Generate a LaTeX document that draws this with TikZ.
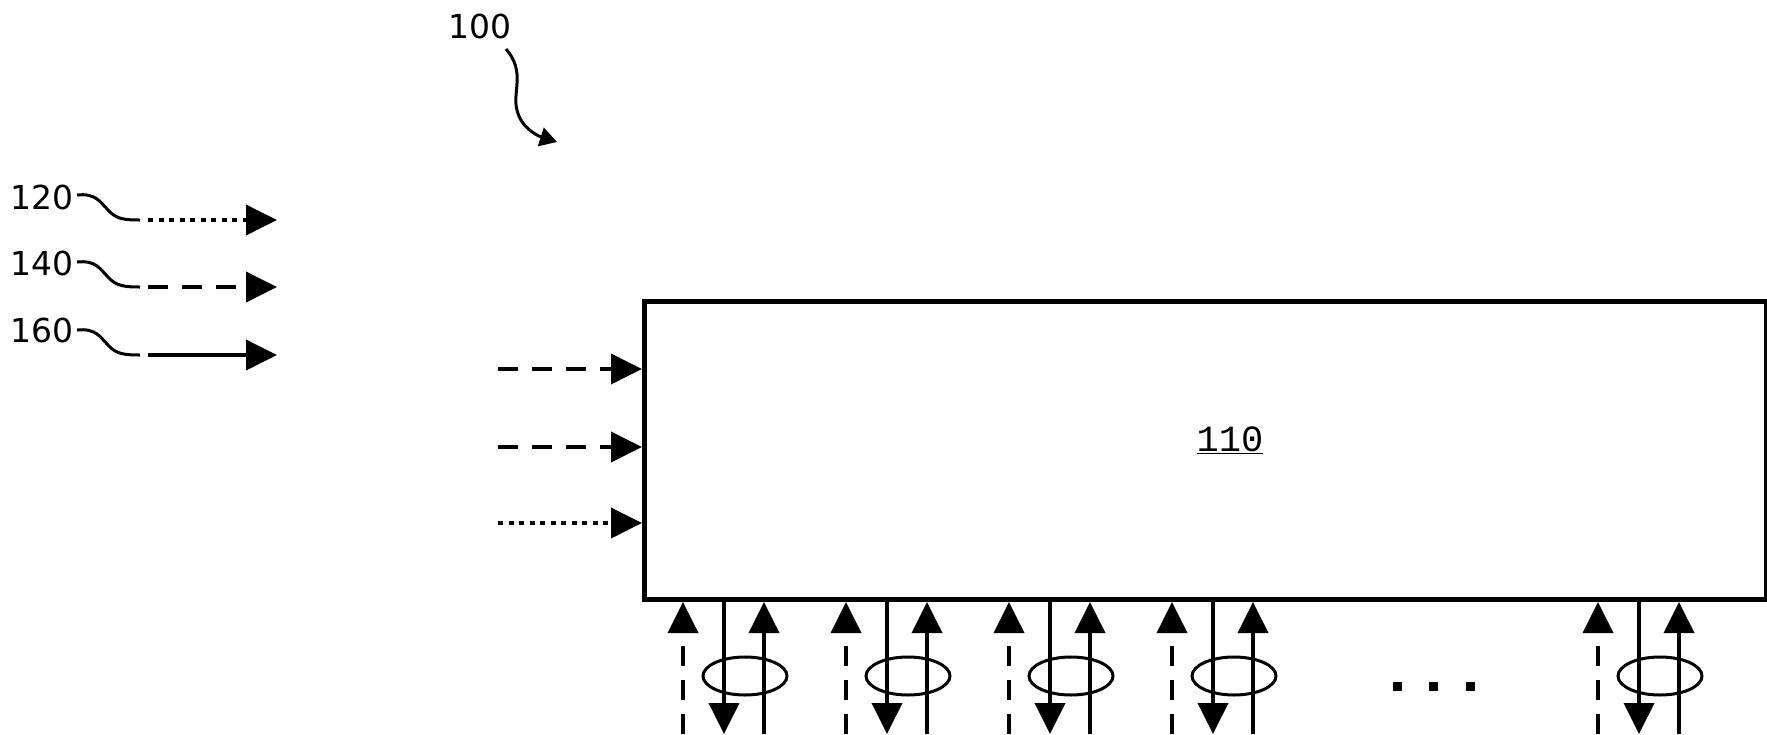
\documentclass[tikz,border=0pt]{standalone}
\usepackage{fontspec}
\setmainfont{DejaVu Sans}
\newfontfamily\monofnt{Liberation Mono}
\usetikzlibrary{arrows.meta,shapes.geometric}
\begin{document}
\begin{tikzpicture}[x=1pt,y=-1pt,
  lbl/.style={font=\fontsize{33}{36}\selectfont, inner sep=0pt},
  conn/.style={line width=3.8pt, -{Triangle[length=31pt,width=30pt]}},
  dotline/.style={conn, dash pattern=on 5pt off 5.5pt},
  dashline/.style={conn, dash pattern=on 20pt off 14pt},
  leader/.style={line width=3pt},
  loopell/.style={line width=3pt, draw, ellipse, minimum width=84pt, minimum height=38pt, inner sep=0pt},
  dotsq/.style={fill=black, minimum size=9pt, inner sep=0pt}]
\useasboundingbox (0,0) rectangle (1767,734);

% main box
\node[draw, line width=5pt, minimum width=1122pt, minimum height=298pt, inner sep=0pt, anchor=north west] (box) at (642,299) {};
\node[font=\monofnt\fontsize{37}{40}\selectfont, inner sep=0pt] (t110) at (1230,440) {\underline{110}};

% label 100
\node[lbl] (t100) at (480,26) {100};
\coordinate (c100a) at (506,49);
\coordinate (c100b) at (517,110);
\coordinate (c100c) at (557,142);
\draw[leader, -{Triangle[length=17pt,width=19pt]}] (c100a) .. controls (526,72) and (512,92) .. (c100b) .. controls (521,128) and (538,136) .. (c100c);

% legend
\node[lbl] (t120) at (42,197) {120};
\node[lbl] (t140) at (42,263) {140};
\node[lbl] (t160) at (42,330) {160};
\foreach \n/\y/\st in {120/220/dotline, 140/287/dashline, 160/355/conn}{
  \coordinate (ls\n) at (77,\y-25);
  \coordinate (le\n) at (140,\y);
  \coordinate (as\n) at (148,\y);
  \coordinate (ae\n) at (277,\y);
  \draw[leader] (ls\n) .. controls (96,\y-27) and (100,\y-18) .. (108,\y-10) .. controls (116,\y-1) and (124,\y) .. (le\n);
  \draw[\st] (as\n) -- (ae\n);
}

% left inputs
\coordinate (in1) at (498,369);
\coordinate (in2) at (498,447);
\coordinate (in3) at (498,523);
\draw[dashline] (in1) -- (in1 -| box.west);
\draw[dashline] (in2) -- (in2 -| box.west);
\draw[dotline] (in3) -- (in3 -| box.west);

% bottom groups
\foreach \i/\x in {1/683, 2/846, 3/1009, 4/1172, 5/1598}{
  \coordinate (gd\i) at (\x,734);
  \coordinate (gs\i) at (\x+41,734);
  \coordinate (gu\i) at (\x+81,734);
  \draw[dashline] (gd\i) -- (gd\i |- box.south);
  \draw[conn] (gs\i |- box.south) -- (gs\i);
  \draw[conn] (gu\i) -- (gu\i |- box.south);
  \node[loopell] (el\i) at (\x+62,676) {};
}

% ellipsis dots
\node[dotsq] (dA) at (1397,686) {};
\node[dotsq] (dB) at (1433,686) {};
\node[dotsq] (dC) at (1470,686) {};
\end{tikzpicture}
\end{document}
